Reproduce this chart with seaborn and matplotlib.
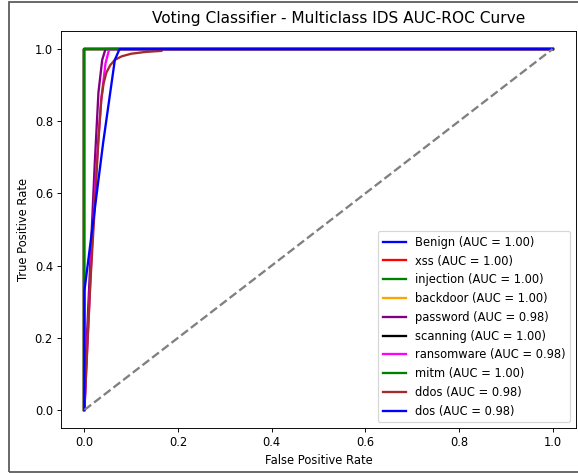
import numpy as np
import pandas as pd
import seaborn as sns
import matplotlib
matplotlib.use("Agg")
import matplotlib.pyplot as plt
from matplotlib.patches import Rectangle

# Per-class ROC curves of the voting classifier (one-vs-rest)
classes = ["Benign", "xss", "injection", "backdoor", "password",
           "scanning", "ransomware", "mitm", "ddos", "dos"]
colors = ["blue", "red", "green", "orange", "purple",
          "black", "magenta", "green", "brown", "blue"]

fpr_benign = [0.0, 0.0, 1.0]
tpr_benign = [0.0, 1.0, 1.0]
fpr_xss = [0.0, 0.0, 1.0]
tpr_xss = [0.0, 1.0, 1.0]
fpr_injection = [0.0, 0.0, 1.0]
tpr_injection = [0.0, 1.0, 1.0]
fpr_backdoor = [0.0, 0.0, 1.0]
tpr_backdoor = [0.0, 1.0, 1.0]
fpr_password = [0.0, 0.006, 0.014, 0.022, 0.030, 0.038, 0.045, 1.0]
tpr_password = [0.0, 0.22, 0.45, 0.68, 0.88, 0.97, 1.0, 1.0]
fpr_scanning = [0.0, 0.0, 1.0]
tpr_scanning = [0.0, 1.0, 1.0]
fpr_ransomware = [0.0, 0.007, 0.016, 0.026, 0.036, 0.045, 0.053, 1.0]
tpr_ransomware = [0.0, 0.20, 0.45, 0.68, 0.86, 0.96, 1.0, 1.0]
fpr_mitm = [0.0, 0.0, 1.0]
tpr_mitm = [0.0, 1.0, 1.0]
fpr_ddos = [0.0, 0.005, 0.013, 0.022, 0.030, 0.036, 0.041, 0.047, 0.055,
            0.065, 0.080, 0.100, 0.130, 0.165, 0.165, 1.0]
tpr_ddos = [0.0, 0.14, 0.36, 0.56, 0.75, 0.86, 0.905, 0.935, 0.955,
            0.970, 0.980, 0.987, 0.992, 0.995, 1.0, 1.0]
fpr_dos = [0.0, 0.0, 0.020, 0.040, 0.065, 0.075, 1.0]
tpr_dos = [0.0, 0.33, 0.535, 0.74, 0.97, 1.0, 1.0]

fprs = [fpr_benign, fpr_xss, fpr_injection, fpr_backdoor, fpr_password,
        fpr_scanning, fpr_ransomware, fpr_mitm, fpr_ddos, fpr_dos]
tprs = [tpr_benign, tpr_xss, tpr_injection, tpr_backdoor, tpr_password,
        tpr_scanning, tpr_ransomware, tpr_mitm, tpr_ddos, tpr_dos]

DPI = 83
fig = plt.figure(figsize=(578 / DPI, 473 / DPI), dpi=DPI)
ax = fig.add_axes([61 / 578, 1 - 428 / 473, 515 / 578, 397 / 473])

for name, color, fpr, tpr in zip(classes, colors, fprs, tprs):
    roc_auc = np.trapezoid(tpr, fpr)
    df = pd.DataFrame({"fpr": fpr, "tpr": tpr})
    sns.lineplot(data=df, x="fpr", y="tpr", sort=False, estimator=None,
                 color=color, lw=2, ax=ax,
                 label=f"{name} (AUC = {roc_auc:.2f})")

ax.plot([0, 1], [0, 1], color="gray", lw=2, linestyle="--")
ax.set_xlim(-0.05, 1.05)
ax.set_ylim(-0.05, 1.05)
ax.set_xlabel("False Positive Rate")
ax.set_ylabel("True Positive Rate")
ax.set_title("Voting Classifier - Multiclass IDS AUC-ROC Curve",
             fontsize=13.4, pad=7, x=0.539)
ax.legend(loc="lower right")

# frame around the whole figure
fig.patches.append(Rectangle((9 / 578, 1.5 / 473), 575 / 578, 470 / 473,
                             transform=fig.transFigure, fill=False,
                             edgecolor="#555555", lw=1.5))

fig.savefig("out.png", dpi=DPI)
